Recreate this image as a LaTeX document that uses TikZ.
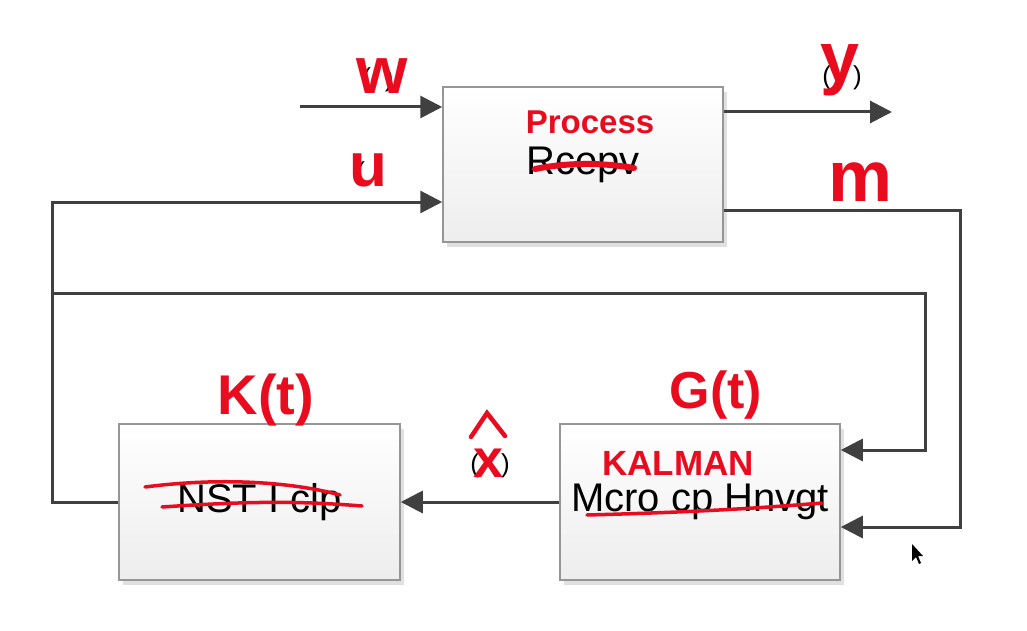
\documentclass[tikz,border=0pt]{standalone}
\usepackage{fontspec}
\setmainfont{Liberation Sans}
\usetikzlibrary{arrows.meta,shadows}
\definecolor{figline}{RGB}{64,64,64}
\definecolor{figbox}{RGB}{150,150,150}
\definecolor{figink}{RGB}{232,12,30}
\tikzset{
  blk/.style ={draw=figbox, line width=1.5pt, top color=white, bottom color=black!7,
               minimum width=280pt, minimum height=155pt, inner sep=0pt,
               drop shadow={shadow xshift=4pt, shadow yshift=-5pt, opacity=.12, fill=black}},
  sig/.style ={draw=figline, line width=3pt},
  sga/.style ={sig, -{Triangle[length=22pt,width=22pt]}},
  txt/.style ={font=\fontsize{40}{44}\selectfont, inner sep=0pt},
  ink/.style ={text=figink, inner sep=0pt},
  strk/.style={draw=figink, line width=3.5pt, line cap=round},
  par/.style ={font=\fontsize{26}{28}\selectfont, inner sep=0pt},
}

\begin{document}
\begin{tikzpicture}[x=1pt,y=-1pt]
  \useasboundingbox (0,0) rectangle (1027,631);
  % blocks
  \node[blk,txt] (proc) at (583,164.5) {Rcepv};
  \node[blk,txt,minimum width=281pt,minimum height=156pt] (kgn) at (259.5,502) {NST I clp};
  \node[blk,txt,minimum height=156pt] (kal) at (700,502) {Mcro cp Hnvgt};
  % corners of the signal lines
  \coordinate (wIn)  at (300,107);
  \coordinate (yOut) at (892,112);
  \coordinate (mTop) at (960,210);
  \coordinate (mBot) at (960,527);
  \coordinate (uTop) at (52,202);
  \coordinate (uBot) at (52,502);
  \coordinate (uTap) at (52,293);
  \coordinate (uCor) at (925,293);
  \coordinate (uEnd) at (925,450);
  % signals
  \draw[sga] (wIn) -- (wIn -| proc.west);
  \draw[sga] (yOut -| proc.east) -- (yOut);
  \draw[sga] (proc.east |- mTop) -- (mTop) -- (mBot) -- (mBot -| kal.east);
  \draw[sga] (kgn.west) -- (uBot) -- (uTop) -- (uTop -| proc.west);
  \draw[sga] (uTap) -- (uCor) -- (uEnd) -- (uEnd -| kal.east);
  \draw[sga] (kal.west) -- (kgn.east);
  % printed brackets
  \node[par] (pw) at (378,80) {(\hspace{14pt})};
  \node[par] (pu) at (370,174) {(\hspace{10pt})};
  \node[par] (py) at (842,78) {(\hspace{22pt})};
  \node[par] (px) at (490,466) {(\hspace{22pt})};
  % handwriting
  \node[ink,font=\bfseries\fontsize{66}{70}\selectfont] (lw) at (382,76) {w};
  \node[ink,font=\bfseries\fontsize{62}{66}\selectfont] (lu) at (368,170) {u};
  \node[ink,font=\bfseries\fontsize{70}{72}\selectfont] (ly) at (840,70) {y};
  \node[ink,font=\bfseries\fontsize{72}{76}\selectfont] (lm) at (860,182) {m};
  \node[ink,font=\bfseries\fontsize{33}{36}\selectfont] (lproc) at (590,122) {Process};
  \node[ink,font=\bfseries\fontsize{56}{60}\selectfont] (lk) at (266,400) {K(t)};
  \node[ink,font=\bfseries\fontsize{52}{56}\selectfont] (lg) at (716,395) {G(t)};
  \node[ink,font=\bfseries\fontsize{35}{38}\selectfont] (lkal) at (678,463) {KALMAN};
  \node[ink,font=\bfseries\fontsize{54}{58}\selectfont] (lx) at (489,463) {x};
  \draw[strk,line width=4.5pt] (471,437) -- (487,413) -- (505,436);
  % strike-outs
  \draw[strk,line width=6pt] (535,169) .. controls (575,161) and (610,164) .. (634,168);
  \draw[strk] (145,487) .. controls (230,476) and (300,484) .. (340,495);
  \draw[strk] (162,507) .. controls (250,501) and (300,501) .. (362,506);
  \draw[strk] (587,515) .. controls (700,512) and (760,508) .. (822,503);
  % pointer
  \fill[black] (912,544) -- (912,561) -- (916,557) -- (919,564) -- (921,563) -- (918,556) -- (923,556) -- cycle;
\end{tikzpicture}
\end{document}
